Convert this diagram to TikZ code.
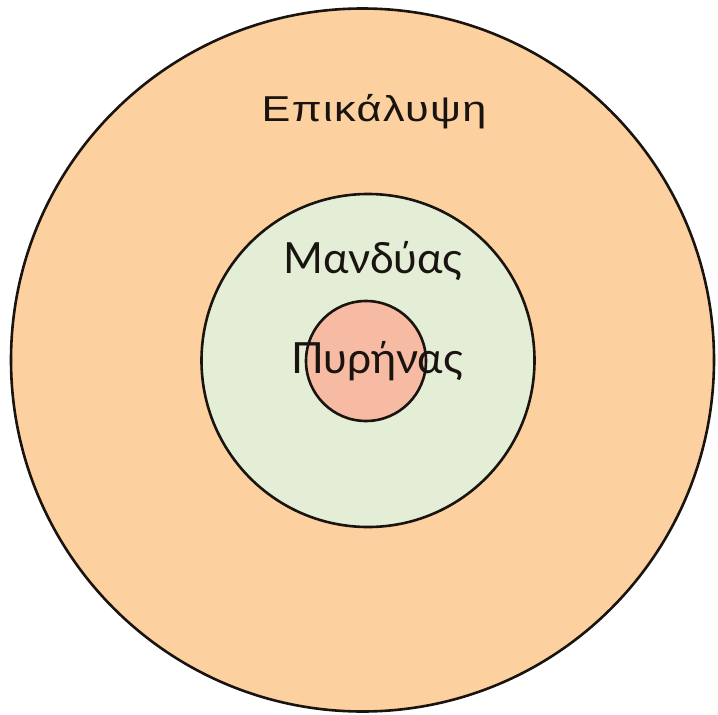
\documentclass[tikz,border=0pt]{standalone}
\usepackage{fontspec}
\setmainfont{Liberation Sans}
\newfontfamily\outerfont[FakeStretch=1.2,LetterSpace=4]{Liberation Sans}
\newfontfamily\innerfont{Lato}
\definecolor{outerfill}{RGB}{253,208,160}
\definecolor{midfill}{RGB}{228,238,214}
\definecolor{corefill}{RGB}{247,187,164}
\definecolor{linecol}{RGB}{25,20,15}
\begin{document}
\begin{tikzpicture}[x=1pt,y=-1pt,
  ring/.style={draw=linecol,line width=2.6pt},
  lbl/.style={inner sep=0pt,anchor=base,text=linecol}]
\useasboundingbox (0,0) rectangle (718,715);
\fill[white] (0,0) rectangle (718,715);
\draw[ring,fill=outerfill] (362.5,360) circle (351.5);
\draw[ring,fill=midfill] (368,360.5) circle (166.5);
\draw[ring,fill=corefill] (366,361) circle (60);
\node[lbl,font=\outerfont\fontsize{36}{36}\selectfont] (epi) at (374,121) {Επικάλυψη};
\node[lbl,font=\innerfont\fontsize{43}{43}\selectfont] (man) at (373.4,273) {Μανδύας};
\node[lbl,font=\innerfont\fontsize{43}{43}\selectfont] (pyr) at (377.2,373) {Πυρήνας};
\end{tikzpicture}
\end{document}
